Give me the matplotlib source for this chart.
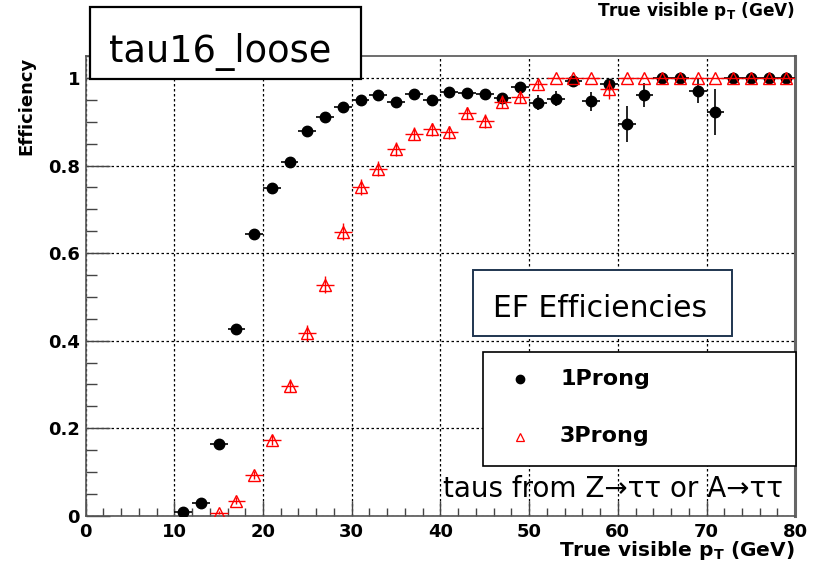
import matplotlib
matplotlib.use("Agg")
import matplotlib.pyplot as plt
from matplotlib.patches import Rectangle
from matplotlib.lines import Line2D
from matplotlib.ticker import MultipleLocator
import numpy as np

W, H = 813, 563

# 1Prong, bins of 2 GeV centred at 11..79
pt_1p = [11, 13, 15, 17, 19, 21, 23, 25, 27, 29, 31, 33, 35, 37, 39, 41, 43, 45,
         47, 49, 51, 53, 55, 57, 59, 61, 63, 65, 67, 69, 71, 73, 75, 77, 79]
eff_1p = [0.008, 0.028, 0.163, 0.427, 0.643, 0.748, 0.809, 0.879, 0.911, 0.934,
          0.949, 0.961, 0.946, 0.963, 0.950, 0.969, 0.967, 0.963, 0.954, 0.980,
          0.944, 0.953, 0.994, 0.947, 0.986, 0.895, 0.961, 1.0, 1.0, 0.971,
          0.923, 1.0, 1.0, 1.0, 1.0]
err_1p = [0.004, 0.006, 0.008, 0.010, 0.010, 0.008, 0.008, 0.007, 0.006, 0.006,
          0.006, 0.006, 0.006, 0.006, 0.006, 0.006, 0.006, 0.006, 0.012, 0.010,
          0.017, 0.017, 0.006, 0.022, 0.010, 0.041, 0.028, 0.0, 0.0, 0.029,
          0.052, 0.0, 0.0, 0.0, 0.0]

# 3Prong
pt_3p = [15, 17, 19, 21, 23, 25, 27, 29, 31, 33, 35, 37, 39, 41, 43, 45, 47, 49,
         51, 53, 55, 57, 59, 61, 63, 65, 67, 69, 71, 73, 75, 77, 79]
eff_3p = [0.007, 0.034, 0.093, 0.173, 0.297, 0.417, 0.528, 0.649, 0.751, 0.793,
          0.838, 0.873, 0.883, 0.876, 0.921, 0.902, 0.946, 0.957, 0.986, 1.0,
          1.0, 1.0, 0.974, 1.0, 1.0, 1.0, 1.0, 1.0, 1.0, 1.0, 1.0, 1.0, 1.0]
err_3p = [0.004, 0.008, 0.010, 0.012, 0.015, 0.018, 0.020, 0.020, 0.018, 0.017,
          0.016, 0.015, 0.015, 0.015, 0.014, 0.016, 0.015, 0.014, 0.010, 0.0,
          0.0, 0.0, 0.021, 0.0, 0.0, 0.0, 0.0, 0.0, 0.0, 0.0, 0.0, 0.0, 0.0]

bin_half = 1.0

fig = plt.figure(figsize=(W / 100, H / 100), dpi=100)


def fx(px):
    return px / W


def fy(py):
    return 1 - py / H


ax = fig.add_axes([fx(85.6), fy(515.7), fx(795.2) - fx(85.6), fy(56.2) - fy(515.7)])

ax.errorbar(pt_1p, eff_1p, xerr=bin_half, yerr=err_1p, fmt="o", color="black",
            ms=7.5, elinewidth=1.2, capsize=0, zorder=3)
ax.errorbar(pt_3p, eff_3p, xerr=bin_half, yerr=err_3p, fmt="^", color="red",
            mfc="none", mec="red", ms=8.5, mew=1.0, elinewidth=1.0, capsize=0,
            zorder=4)

ax.set_xlim(0, 80)
ax.set_ylim(0, 1.05)
ax.xaxis.set_major_locator(MultipleLocator(10))
ax.xaxis.set_minor_locator(MultipleLocator(2))
ax.yaxis.set_major_locator(MultipleLocator(0.2))
ax.yaxis.set_minor_locator(MultipleLocator(0.05))
ax.set_yticks([0, 0.2, 0.4, 0.6, 0.8, 1.0])
ax.set_yticklabels(["0", "0.2", "0.4", "0.6", "0.8", "1"])

ax.grid(True, which="major", color="black", ls=(0, (2, 2)), lw=0.9, zorder=0)
ax.set_axisbelow(True)

ax.tick_params(axis="x", which="major", direction="in", length=11, width=1,
               color="#444444", labelsize=13, pad=5)
ax.tick_params(axis="x", which="minor", direction="in", length=6, width=1,
               color="#444444")
ax.tick_params(axis="y", which="major", direction="in", length=17, width=1,
               color="#444444", labelsize=13, pad=4)
ax.tick_params(axis="y", which="minor", direction="in", length=8, width=1,
               color="#444444")
for lab in ax.get_xticklabels() + ax.get_yticklabels():
    lab.set_fontweight("bold")

for side in ["left", "bottom", "top"]:
    ax.spines[side].set_color("#555555")
    ax.spines[side].set_linewidth(1.2)
ax.spines["right"].set_color("#666666")
ax.spines["right"].set_linewidth(2.2)

# axis titles
xlab = r"True visible p$_\mathbf{T}$ (GeV)"
fig.text(fx(795), fy(556), xlab, ha="right", va="baseline", fontsize=14.5,
         fontweight="bold")
fig.text(fx(795), fy(16), xlab, ha="right", va="baseline", fontsize=12.2,
         fontweight="bold")
fig.text(fx(26), fy(57), "Efficiency", rotation=90, ha="center", va="top",
         fontsize=13, fontweight="bold")

# title box
fig.add_artist(Rectangle((fx(90), fy(79)), fx(361) - fx(90), fy(7) - fy(79),
                         transform=fig.transFigure, fill=True, fc="white",
                         ec="black", lw=1.6, zorder=5))
fig.text(fx(109), fy(62), "tau16_loose", ha="left", va="baseline",
         fontsize=26.5, zorder=6)

# EF box
fig.add_artist(Rectangle((fx(473), fy(336)), fx(732) - fx(473), fy(270) - fy(336),
                         transform=fig.transFigure, fill=True, fc="white",
                         ec="#1f3550", lw=1.4, zorder=5))
fig.text(fx(493), fy(317), "EF Efficiencies", ha="left", va="baseline",
         fontsize=21.5, zorder=6)

# legend box
fig.add_artist(Rectangle((fx(483), fy(466)), fx(796) - fx(483), fy(352) - fy(466),
                         transform=fig.transFigure, fill=True, fc="white",
                         ec="black", lw=1.2, zorder=5))
fig.add_artist(Line2D([fx(520)], [fy(379)], transform=fig.transFigure, marker="o",
                      ms=6, color="black", ls="none", zorder=6))
fig.add_artist(Line2D([fx(520)], [fy(437)], transform=fig.transFigure, marker="^",
                      ms=6, mfc="white", mec="red", mew=0.9, ls="none", zorder=6))
fig.text(fx(560), fy(379), "1Prong", ha="left", va="center", fontsize=16,
         fontweight="bold", zorder=6)
fig.text(fx(560), fy(436), "3Prong", ha="left", va="center", fontsize=16,
         fontweight="bold", zorder=6)

fig.text(fx(443), fy(497), "taus from Z\u2192\u03c4\u03c4 or A\u2192\u03c4\u03c4",
         ha="left", va="baseline", fontsize=20, zorder=6)

fig.savefig("out.png", dpi=100)
